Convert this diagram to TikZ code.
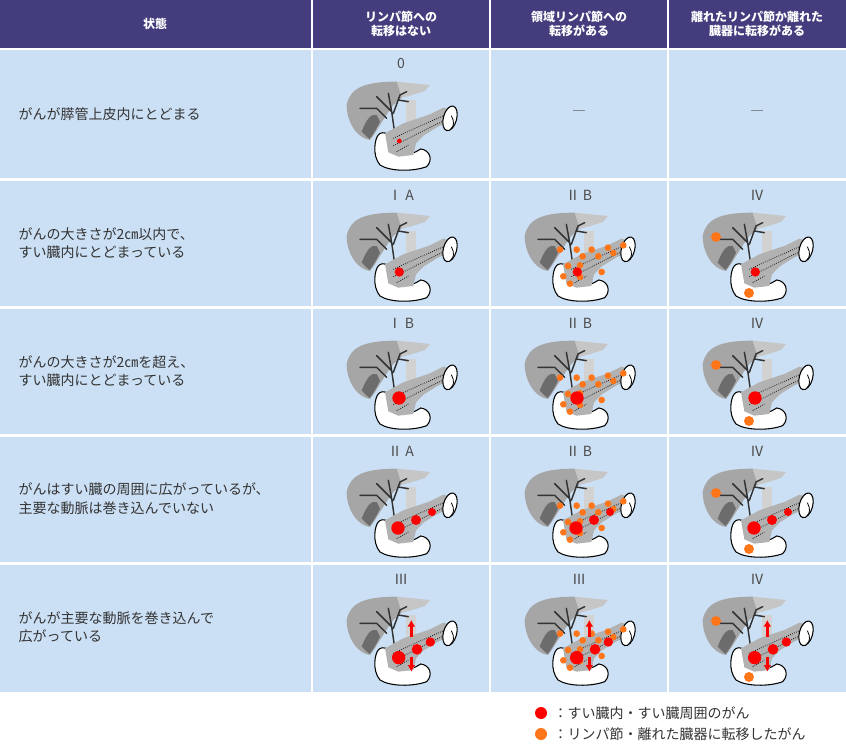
\documentclass[tikz,border=0pt]{standalone}
\usepackage{fontspec}
\setmainfont{Noto Sans CJK JP}
\usetikzlibrary{arrows.meta}
\begin{document}
\begin{tikzpicture}[x=0.75pt,y=-0.75pt,
  cell/.style={fill=cellblue,draw=none},
  head/.style={fill=headpurple,draw=none},
  htext/.style={text=white,font=\bfseries\fontsize{9}{11}\selectfont,align=center},
  ttext/.style={font=\fontsize{10.5}{14}\selectfont,align=left,anchor=west,text=black!80},
  stage/.style={font=\fontsize{10.5}{12}\selectfont,text=black!70},
  rd/.style={fill=red,draw=none},
  od/.style={fill=orange!80!red!90,draw=none},
  organ/.pic={
    \fill[gray!45] (200,80) -- (300,90) -- (285,108) -- (240,122) -- (215,128) -- cycle;
    \fill[gray!70] (50,150) .. controls (60,100) and (100,80) .. (200,80) -- (215,128) -- (190,150) .. controls (160,190) and (140,230) .. (120,255) .. controls (80,250) and (50,200) .. (50,150) -- cycle;
    \fill[gray!85!black] (95,230) .. controls (110,190) and (125,175) .. (140,180) -- (150,200) .. controls (135,230) and (125,245) .. (118,252) -- cycle;
    \fill[gray!35] (228,135) rectangle (258,225);
    \draw[gray!40!black,line width=1.1pt,line cap=round] (195,240) -- (185,170) -- (140,125) (185,170) -- (175,115) (190,175) -- (210,120) -- (230,110) (205,135) -- (235,140) (90,160) -- (140,160) -- (170,190);
    \draw[black,line width=0.8pt,fill=white] (145,240) .. controls (135,250) and (125,300) .. (150,330) .. controls (180,350) and (250,350) .. (290,335) .. controls (310,315) and (300,285) .. (272,282) .. controls (255,295) and (230,300) .. (210,300) .. controls (185,290) and (170,260) .. (175,240) .. controls (165,230) and (150,232) .. (145,240) -- cycle;
    \fill[gray!60] (165,235) -- (220,205) -- (300,178) -- (340,158) -- (368,165) -- (360,198) -- (322,216) -- (280,242) -- (258,265) -- (250,300) -- (205,305) -- (175,292) -- cycle;
    \draw[gray!20!black,densely dotted,line width=0.6pt] (190,250) -- (250,222) -- (300,200) -- (345,180) (190,272) -- (240,248) -- (290,222) -- (340,198) (200,290) -- (235,270);
    \draw[black,line width=0.8pt,fill=white,rotate around={-15:(360,190)}] (360,190) ellipse (20 and 38);
    \draw[black,line width=0.6pt] (364,182) .. controls (374,200) and (372,215) .. (362,222);
  }]
\definecolor{cellblue}{HTML}{CCE0F5}
\definecolor{headpurple}{HTML}{433D7D}
\useasboundingbox (0,0) rectangle (846,755);
\fill[white] (0,0) rectangle (846,755);
% header
\fill[head] (0,0) rectangle (311,48);
\fill[head] (313,0) rectangle (489,48);
\fill[head] (491,0) rectangle (667,48);
\fill[head] (669,0) rectangle (846,48);
\node[htext] (h0) at (155,24) {状態};
\node[htext] (h1) at (401,24) {リンパ節への\\転移はない};
\node[htext] (h2) at (579,24) {領域リンパ節への\\転移がある};
\node[htext] (h3) at (757,24) {離れたリンパ節か離れた\\臓器に転移がある};
% cells
\foreach \t/\b in {50/178,181/306,309/434,437/562,565/692}{
  \fill[cell] (0,\t) rectangle (311,\b);
  \fill[cell] (313,\t) rectangle (489,\b);
  \fill[cell] (491,\t) rectangle (667,\b);
  \fill[cell] (669,\t) rectangle (846,\b);
}
% state texts
\node[ttext] (s1) at (14,114) {がんが膵管上皮内にとどまる};
\node[ttext] (s2) at (14,243) {がんの大きさが2㎝以内で、\\すい臓内にとどまっている};
\node[ttext] (s3) at (14,371) {がんの大きさが2㎝を超え、\\すい臓内にとどまっている};
\node[ttext] (s4) at (14,499) {がんはすい臓の周囲に広がっているが、\\主要な動脈は巻き込んでいない};
\node[ttext] (s5) at (14,627) {がんが主要な動脈を巻き込んで\\広がっている};
% row 1
\node[stage] (l10) at (401,64) {0};
\node[stage] (l11) at (579,114) {―};
\node[stage] (l12) at (757,114) {―};
\pic[scale=1/3] at (330,55) {organ};
\begin{scope}[shift={(330,55)},scale=1/3]\fill[rd] (208,258) circle (7);\end{scope}
% stage labels rows 2-5
\foreach \t/\a/\b/\c in {181/Ⅰ A/Ⅱ B/Ⅳ,309/Ⅰ B/Ⅱ B/Ⅳ,437/Ⅱ A/Ⅱ B/Ⅳ,565/Ⅲ/Ⅲ/Ⅳ}{
  \node[stage] at (401,\t+14) {\a};
  \node[stage] at (579,\t+14) {\b};
  \node[stage] at (757,\t+14) {\c};
  \foreach \cx in {401,579,757}{\pic[scale=1/3] at (\cx-71,\t+5) {organ};}
}
% red tumour sets
\newcommand\redA{\fill[rd] (208,258) circle (14);}
\newcommand\redB{\fill[rd] (207,252) circle (20);}
\newcommand\redC{\fill[rd] (204,258) circle (20);\fill[rd] (258,234) circle (15);\fill[rd] (306,210) circle (12);}
\newcommand\redD{\fill[rd] (206,263) circle (20);\fill[rd] (261,238) circle (16);\fill[rd] (301,216) circle (14);
  \draw[red,line width=2pt,-{Latex[length=5pt,width=6pt]}] (244,200) -- (244,150);
  \draw[red,line width=2pt,-{Latex[length=5pt,width=6pt]}] (244,262) -- (244,305);}
\newcommand\lymph{\foreach \p in {(156,191),(206,191),(251,191),(224,211),(271,211),(166,271),(186,293),(216,273),(216,238),(281,258),(346,178),(316,201),(180,240),(300,185)}{\fill[od] \p circle (10);}}
\newcommand\mets{\fill[od] (90,153) circle (15);\fill[od] (189,321) circle (15);}
\foreach \t/\r in {181/\redA,309/\redB,437/\redC,565/\redD}{
  \begin{scope}[shift={(330,\t+5)},scale=1/3]\r\end{scope}
  \begin{scope}[shift={(508,\t+5)},scale=1/3]\lymph\r\end{scope}
  \begin{scope}[shift={(686,\t+5)},scale=1/3]\r\mets\end{scope}
}
% legend
\fill[rd] (541,713) circle (6);
\node[ttext] (g1) at (549,713) {：すい臓内・すい臓周囲のがん};
\fill[od] (541,734) circle (6);
\node[ttext] (g2) at (549,734) {：リンパ節・離れた臓器に転移したがん};
\end{tikzpicture}
\end{document}
